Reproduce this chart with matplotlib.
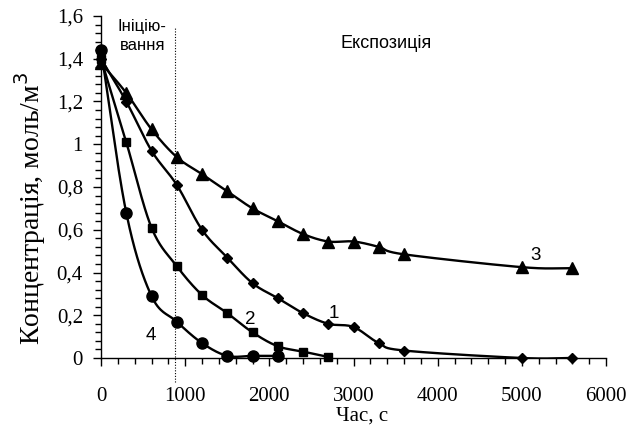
import numpy as np
import matplotlib
matplotlib.use("Agg")
import matplotlib.pyplot as plt
from matplotlib.ticker import MultipleLocator, FuncFormatter

# Time points, s
t1 = [0, 300, 600, 900, 1200, 1500, 1800, 2100, 2400, 2700, 3000, 3300, 3600, 5000, 5600]
c1 = [1.40, 1.20, 0.97, 0.81, 0.60, 0.47, 0.35, 0.28, 0.21, 0.16, 0.145, 0.07, 0.035, 0.0, 0.0]

t2 = [0, 300, 600, 900, 1200, 1500, 1800, 2100, 2400, 2700]
c2 = [1.40, 1.01, 0.61, 0.43, 0.295, 0.21, 0.12, 0.055, 0.03, 0.005]

t3 = [0, 300, 600, 900, 1200, 1500, 1800, 2100, 2400, 2700, 3000, 3300, 3600, 5000, 5600]
c3 = [1.38, 1.24, 1.07, 0.94, 0.86, 0.78, 0.70, 0.64, 0.58, 0.545, 0.545, 0.52, 0.485, 0.425, 0.42]

t4 = [0, 300, 600, 900, 1200, 1500, 1800, 2100]
c4 = [1.44, 0.68, 0.29, 0.17, 0.07, 0.01, 0.01, 0.01]

t_init = 885  # end of initiation stage, s

SERIF = "Liberation Serif"
SANS = "Liberation Sans"


def smooth(x, y, n=30):
    """Catmull-Rom spline through the points (smoothed line)."""
    x = np.asarray(x, float)
    y = np.asarray(y, float)
    px = np.concatenate([[2 * x[0] - x[1]], x, [2 * x[-1] - x[-2]]])
    py = np.concatenate([[2 * y[0] - y[1]], y, [2 * y[-1] - y[-2]]])
    xs, ys = [], []
    s = np.linspace(0, 1, n, endpoint=False)
    for i in range(1, len(px) - 2):
        p0, p1, p2, p3 = [np.array([px[j], py[j]]) for j in range(i - 1, i + 3)]
        for tt in s:
            pt = 0.5 * ((2 * p1) + (-p0 + p2) * tt
                        + (2 * p0 - 5 * p1 + 4 * p2 - p3) * tt ** 2
                        + (-p0 + 3 * p1 - 3 * p2 + p3) * tt ** 3)
            xs.append(pt[0])
            ys.append(pt[1])
    xs.append(x[-1])
    ys.append(y[-1])
    return np.array(xs), np.array(ys)


W, H = 642, 428
fig = plt.figure(figsize=(W / 100, H / 100), dpi=100)
ax = fig.add_axes([101 / W, 1 - 358 / H, 505 / W, 342 / H])

series = [
    (t1, c1, "D", 5.2),
    (t2, c2, "s", 5.2),
    (t3, c3, "^", 8.5),
    (t4, c4, "o", 8.0),
]
for t, c, m, ms in series:
    sx, sy = smooth(t, c)
    ax.plot(sx, sy, color="black", lw=1.7, zorder=3)
    ax.plot(t, c, linestyle="none", marker=m, ms=ms, color="black", zorder=4,
            clip_on=False)

# boundary between initiation and exposure stages
ax.plot([t_init, t_init], [-0.11, 1.55], color="black", lw=0.8,
        linestyle=(0, (1, 1.5)), clip_on=False, zorder=2)

ax.set_xlim(0, 6000)
ax.set_ylim(0, 1.6)

for side in ("top", "right"):
    ax.spines[side].set_visible(False)
ax.spines["left"].set_linewidth(1.0)
ax.spines["bottom"].set_linewidth(1.0)

ax.xaxis.set_major_locator(MultipleLocator(1000))
ax.xaxis.set_minor_locator(MultipleLocator(200))
ax.yaxis.set_major_locator(MultipleLocator(0.2))
ax.yaxis.set_minor_locator(MultipleLocator(0.04))
ax.tick_params(which="major", direction="out", length=6, width=1.0,
               labelsize=15)
ax.tick_params(which="minor", direction="out", length=4, width=1.0)
ax.tick_params(axis="x", pad=15)
ax.tick_params(axis="y", pad=7)


def comma_fmt(v, pos):
    s = f"{v:.1f}".rstrip("0").rstrip(".")
    return s.replace(".", ",")


ax.yaxis.set_major_formatter(FuncFormatter(comma_fmt))
for lab in ax.get_xticklabels() + ax.get_yticklabels():
    lab.set_fontfamily(SERIF)

# axis titles
fig.text(362 / W, 1 - 421 / H, "Час, с", fontfamily=SERIF, fontsize=15,
         ha="center", va="baseline")
fig.text(30 / W, 1 - 208 / H, "Концентрація, моль/м$^3$", fontfamily=SERIF,
         fontsize=20, rotation=90, ha="center", va="center")

ax.text(200, 1.53, "Ініцію-", fontfamily=SANS, fontsize=12,
        ha="left", va="baseline")
ax.text(225, 1.44, "вання", fontfamily=SANS, fontsize=12,
        ha="left", va="baseline")
ax.text(2851, 1.45, "Експозиція", fontfamily=SANS, fontsize=13,
        ha="left", va="baseline")

ax.text(2770, 0.17, "1", fontfamily=SANS, fontsize=13.5, ha="center", va="bottom")
ax.text(1770, 0.14, "2", fontfamily=SANS, fontsize=13.5, ha="center", va="bottom")
ax.text(5160, 0.44, "3", fontfamily=SANS, fontsize=13.5, ha="center", va="bottom")
ax.text(590, 0.065, "4", fontfamily=SANS, fontsize=13.5, ha="center", va="bottom")

fig.savefig("out.png", dpi=100)
